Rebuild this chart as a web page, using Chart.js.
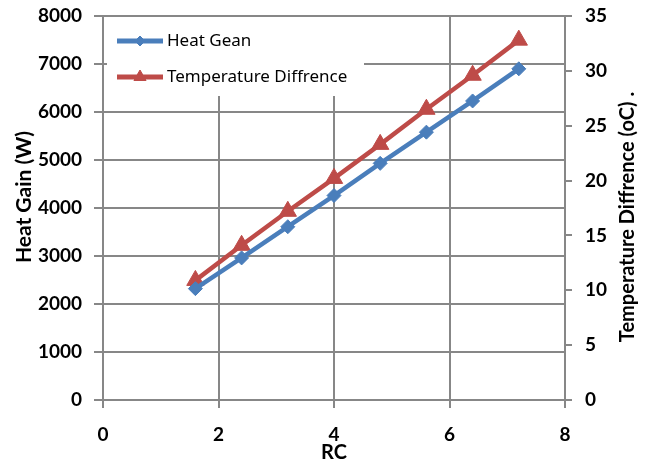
<!DOCTYPE html>
<html><head><meta charset="utf-8">
<script src="https://cdn.jsdelivr.net/npm/chart.js@4"></script>
<style>html,body{margin:0;padding:0;background:#fff}#wrap{width:648px;height:465px;position:relative}</style>
</head><body><div id="wrap"><canvas id="c"></canvas></div>
<script>
// ---- data ----
const rcValues   = [1.6, 2.4, 3.2, 4.0, 4.8, 5.6, 6.4, 7.2];
const heatGain   = [2320, 2960, 3610, 4260, 4930, 5580, 6230, 6900];
const tempDiff   = [10.9, 14.1, 17.2, 20.2, 23.3, 26.5, 29.6, 32.8];
const seriesNames = ['Heat Gean', 'Temperature Diffrence'];
const xTitle = 'RC';
const yTitle = 'Heat Gain (W)';
const y2Title = 'Temperature Diffrence (oC) .';

const BLUE = '#4A7EBB', RED = '#BE4B48', GRID = '#878787';
const tickFont = {family: 'Lato', size: 19, weight: 'bold'};
const titleFont = {family: 'Lato', size: 20, weight: 'bold'};

const toPts = (xs, ys) => xs.map((x, i) => ({x: x, y: ys[i]}));
const plain = v => String(v);

function drawMarker(ctx, style, x, y, r, color) {
  ctx.save();
  ctx.fillStyle = color; ctx.strokeStyle = color; ctx.lineWidth = 1;
  ctx.beginPath();
  if (style === 'rectRot') {
    ctx.moveTo(x, y - r); ctx.lineTo(x + r, y); ctx.lineTo(x, y + r); ctx.lineTo(x - r, y);
  } else {
    const a = 2 * Math.PI / 3;
    ctx.moveTo(x, y - r);
    ctx.lineTo(x + Math.sin(a) * r, y - Math.cos(a) * r);
    ctx.lineTo(x + Math.sin(2 * a) * r, y - Math.cos(2 * a) * r);
  }
  ctx.closePath(); ctx.fill(); ctx.stroke();
  ctx.restore();
}

const customLegend = {
  id: 'customLegend',
  afterDatasetsDraw(chart) {
    const ctx = chart.ctx;
    ctx.save();
    ctx.fillStyle = '#fff';
    ctx.fillRect(107, 17, 257, 79);
    const rows = [41, 77];
    chart.data.datasets.forEach((ds, i) => {
      const y = rows[i];
      ctx.strokeStyle = ds.borderColor; ctx.lineWidth = 5; ctx.lineCap = 'butt';
      ctx.beginPath(); ctx.moveTo(117, y); ctx.lineTo(163, y); ctx.stroke();
      drawMarker(ctx, ds.pointStyle, 140, y, ds.pointStyle === 'rectRot' ? 5 : 7, ds.borderColor);
      ctx.fillStyle = '#000';
      ctx.font = '17px "Noto Sans"';
      ctx.textBaseline = 'middle'; ctx.textAlign = 'left';
      ctx.fillText(ds.label, 167, y);
    });
    ctx.restore();
  }
};

const axisTitles = {
  id: 'axisTitles',
  afterDraw(chart) {
    const ctx = chart.ctx;
    const items = [[yTitle, 24, 197, 21], [y2Title, 628, 217, 20]];
    items.forEach(([t, x, y, sz]) => {
      ctx.save();
      ctx.translate(x, y);
      ctx.rotate(-Math.PI / 2);
      ctx.font = 'bold ' + sz + 'px Lato';
      ctx.fillStyle = '#000'; ctx.textAlign = 'center'; ctx.textBaseline = 'middle';
      ctx.fillText(t, 0, 0);
      ctx.restore();
    });
  }
};

const noPadY = s => { s.paddingTop = 0; s.paddingBottom = 0; };

new Chart(document.getElementById('c'), {
  type: 'line',
  data: {
    datasets: [
      {label: seriesNames[0], data: toPts(rcValues, heatGain), yAxisID: 'y',
       borderColor: BLUE, backgroundColor: BLUE, borderWidth: 4.5,
       pointStyle: 'rectRot', pointRadius: 7, pointBorderWidth: 1, tension: 0},
      {label: seriesNames[1], data: toPts(rcValues, tempDiff), yAxisID: 'y2',
       borderColor: RED, backgroundColor: RED, borderWidth: 4.5,
       pointStyle: 'triangle', pointRadius: 10, pointBorderWidth: 1, tension: 0}
    ]
  },
  options: {
    responsive: true, maintainAspectRatio: false, animation: false, devicePixelRatio: 1,
    layout: {padding: {top: 16, left: 0, right: 0, bottom: 0}},
    plugins: {legend: {display: false}, tooltip: {enabled: false}},
    scales: {
      x: {type: 'linear', position: 'bottom', min: 0, max: 8,
          ticks: {stepSize: 2, font: tickFont, color: '#000', padding: 15, callback: plain},
          grid: {color: GRID, lineWidth: 2, tickLength: 8},
          border: {color: GRID, width: 2},
          title: {display: true, text: xTitle, font: titleFont, color: '#000', padding: {top: 0, bottom: 0}},
          afterFit: s => { s.height = 65; s.paddingLeft = 0; s.paddingRight = 0; }},
      y: {type: 'linear', position: 'left', min: 0, max: 8000,
          ticks: {stepSize: 1000, font: tickFont, color: '#000', padding: 12, callback: plain},
          grid: {color: GRID, lineWidth: 2, tickLength: 9},
          border: {color: GRID, width: 2},
          afterFit: s => { s.width = 103; noPadY(s); }},
      y2: {type: 'linear', position: 'right', min: 0, max: 35,
          ticks: {stepSize: 5, font: tickFont, color: '#000', padding: 13, callback: plain},
          grid: {color: GRID, lineWidth: 2, tickLength: 7, drawOnChartArea: false},
          border: {color: GRID, width: 2},
          afterFit: s => { s.width = 83; noPadY(s); }}
    }
  },
  plugins: [customLegend, axisTitles]
});
</script>
</body></html>
